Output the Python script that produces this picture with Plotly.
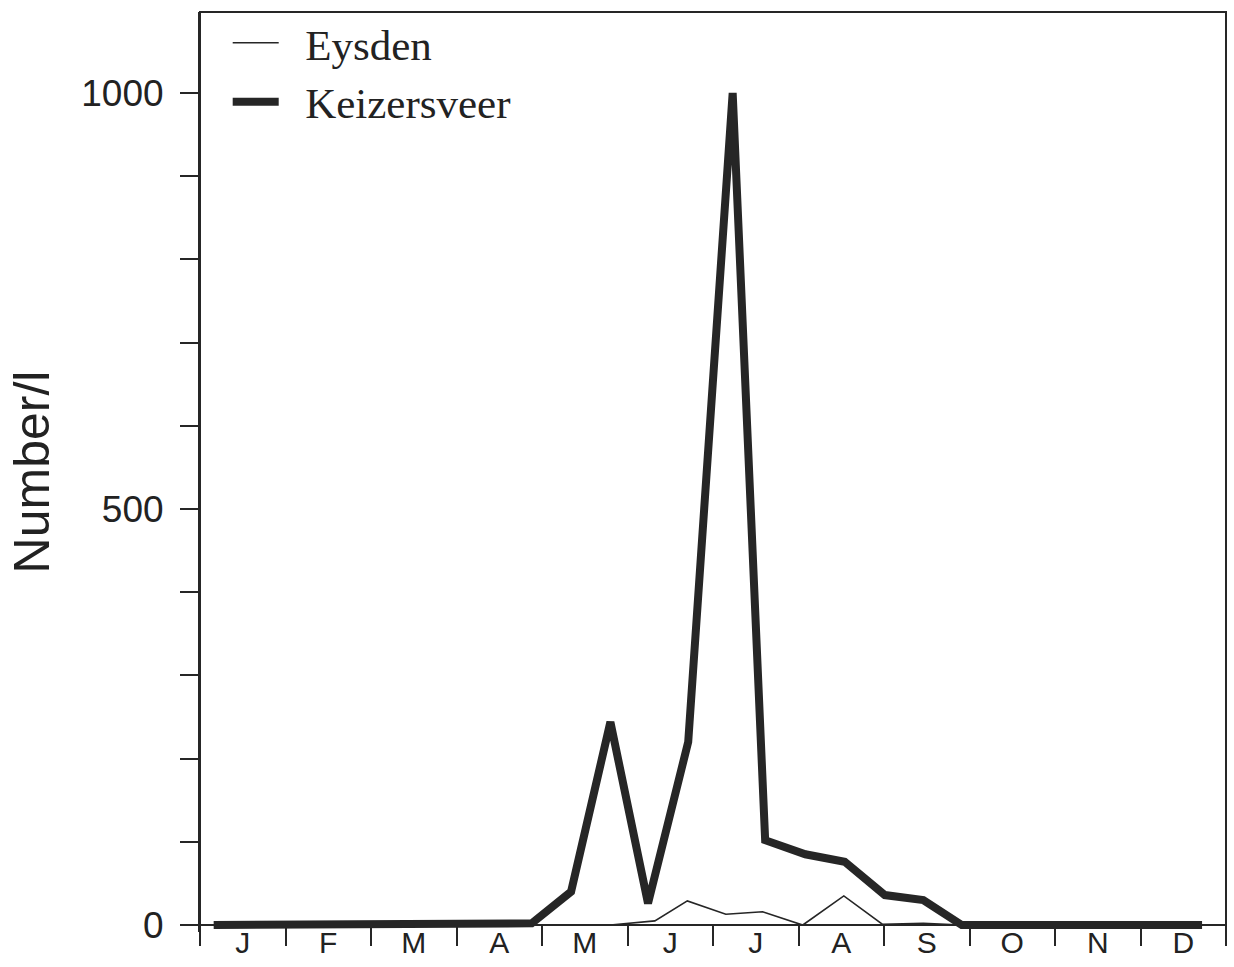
import plotly.graph_objects as go

# Sampling dates (in months from 1 January) and densities (Number/l)
keizersveer_month = [0.16, 0.62, 1.08, 1.54, 2.00, 2.47, 2.92, 3.39, 3.88, 4.34, 4.80, 5.24, 5.71,
                     6.23, 6.61, 7.08, 7.54, 8.01, 8.46, 8.91, 9.38, 9.84, 10.30, 10.76, 11.23, 11.72]
keizersveer_value = [0, 0, 0, 0, 0, 0, 0, 1, 2, 40, 244, 26, 220,
                     1000, 102, 85, 76, 36, 30, 0, 0, 0, 0, 0, 0, 0]

eysden_month = [0.16, 0.62, 1.08, 1.54, 2.00, 2.47, 2.92, 3.39, 3.88, 4.34, 4.80, 5.32, 5.70,
                6.15, 6.58, 7.05, 7.53, 7.98, 8.46, 8.91, 9.38, 9.84, 10.30, 10.76, 11.23, 11.72]
eysden_value = [0, 0, 0, 0, 0, 0, 0, 0, 0, 0, 0, 5, 29,
                13, 16, 0, 35, 1, 2, 0, 0, 0, 0, 0, 0, 0]

month_labels = ["J", "F", "M", "A", "M", "J", "J", "A", "S", "O", "N", "D"]
month_centres = [i + 0.5 for i in range(12)]
month_bounds = list(range(13))

y_tickvals = list(range(0, 1001, 100))
y_ticktext = [str(v) if v in (0, 500, 1000) else "" for v in y_tickvals]

ink = "#262626"

fig = go.Figure()
fig.add_trace(go.Scatter(x=eysden_month, y=eysden_value, name="\u00a0\u00a0Eysden", mode="lines",
                         line=dict(color=ink, width=1.6)))
fig.add_trace(go.Scatter(x=keizersveer_month, y=keizersveer_value, name="\u00a0\u00a0Keizersveer",
                         mode="lines", line=dict(color=ink, width=8)))

axis_pos = 7 / 920

fig.update_layout(
    width=1234, height=967,
    margin=dict(l=200, r=8, t=12, b=35, autoexpand=False),
    paper_bgcolor="white", plot_bgcolor="white",
    showlegend=True,
    legend=dict(x=0.027, y=1.004, xanchor="left", yanchor="top",
                font=dict(family="Liberation Serif", size=43, color="#222"),
                bgcolor="rgba(0,0,0,0)", itemwidth=46, tracegroupgap=0),
    xaxis=dict(range=[0, 12], anchor="free", position=axis_pos, automargin=False,
               showline=True, linecolor=ink, linewidth=2, showgrid=False, zeroline=False,
               tickvals=month_centres, ticktext=month_labels, ticks="", ticklen=0,
               ticklabelstandoff=-9, ticklabeloverflow="allow",
               tickfont=dict(family="Liberation Sans", size=30, color="#222"),
               minor=dict(tickvals=month_bounds, ticks="outside", ticklen=20, tickwidth=2,
                          tickcolor=ink, showgrid=False)),
    yaxis=dict(range=[-8.4, 1097.4], automargin=False, showline=True, linecolor=ink, linewidth=2,
               showgrid=False, zeroline=False,
               tickvals=y_tickvals, ticktext=y_ticktext, ticks="outside", ticklen=18,
               tickwidth=2, tickcolor=ink, ticklabelstandoff=9,
               tickfont=dict(family="Liberation Sans", size=37, color="#222"),
               title=dict(text="Number/l", standoff=16,
                          font=dict(family="Liberation Sans", size=50, color="#222"))),
    shapes=[dict(type="rect", xref="paper", yref="paper", x0=0, x1=1, y0=axis_pos, y1=1,
                 line=dict(color=ink, width=2), fillcolor="rgba(0,0,0,0)", layer="above")],
)

fig.write_html("out.html")
